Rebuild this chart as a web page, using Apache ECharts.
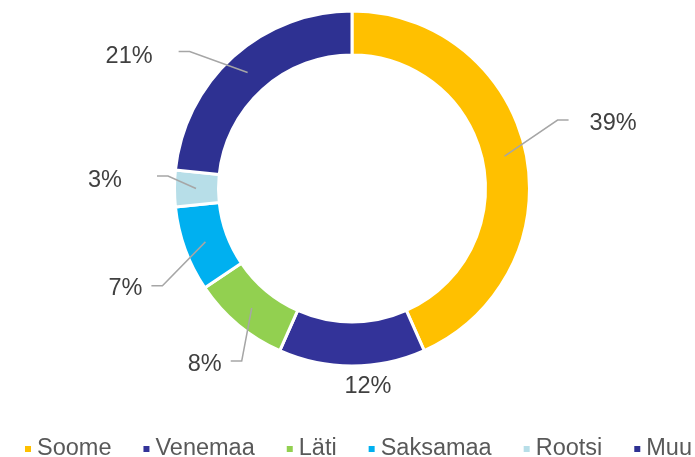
<!DOCTYPE html>
<html>
<head>
<meta charset="utf-8">
<title>Eksport riikide kaupa</title>
<script src="https://cdn.jsdelivr.net/npm/echarts@6/dist/echarts.min.js"></script>
<style>
  html, body { margin: 0; padding: 0; background: #ffffff; }
  #chart { width: 695px; height: 457px; }
</style>
</head>
<body>
<div id="chart"></div>
<script>
// data
const countries = ['Soome', 'Venemaa', 'Läti', 'Saksamaa', 'Rootsi', 'Muu'];
const shares = [39, 12, 8, 7, 3, 21];
const colors = ['#FFC000', '#333399', '#92D050', '#00B0F0', '#B7DEE8', '#2E3192'];

// leader lines like the office chart: elbow offset from the line start,
// gap between the line end and the text, small vertical shift of the text
const leaders = [
  { elbow: [53, -36], gap: 21, lift: 1 },
  { text: [16, 40] },
  { elbow: [-10, 53], gap: 9, lift: 1 },
  { elbow: [-43, 44], gap: 9, lift: 0 },
  { elbow: [-28, -12.5], gap: 35, lift: 2 },
  { elbow: [-58, -21], gap: 26, lift: 2 }
];
const center = [352, 188.5];
const ringRadius = [133.5, 177.5];
const lineStartR = 156;
const textDrop = 2.5; // canvas 'middle' sits a bit high compared with the office render
const fontFamily = '"Liberation Sans", Arial, sans-serif';

const chart = echarts.init(document.getElementById('chart'));

function placeLabel(p) {
  const l = leaders[p.dataIndex];
  const a = p.labelLinePoints[0];
  const dx = a[0] - center[0];
  const dy = a[1] - center[1];
  const k = lineStartR / Math.hypot(dx, dy);
  const s = [center[0] + dx * k, center[1] + dy * k];
  if (!l.elbow) {
    return {
      x: s[0] + l.text[0], y: s[1] + l.text[1] + textDrop,
      align: 'center', verticalAlign: 'middle',
      labelLinePoints: [s, s, s]
    };
  }
  const right = l.elbow[0] > 0;
  const e = [s[0] + l.elbow[0], s[1] + l.elbow[1]];
  const end = [e[0] + (right ? 11 : -11), e[1]];
  return {
    x: end[0] + (right ? l.gap : -l.gap),
    y: e[1] + l.lift + textDrop,
    align: right ? 'left' : 'right',
    verticalAlign: 'middle',
    labelLinePoints: [s, e, end]
  };
}

const option = {
  animation: false,
  color: colors,
  legend: {
    data: countries,
    left: 23,
    top: 437,
    width: 690,
    padding: 0,
    icon: 'rect',
    itemWidth: 8,
    itemHeight: 8,
    itemGap: 30,
    selectedMode: false,
    textStyle: { fontSize: 23.5, color: '#595959', fontFamily: fontFamily }
  },
  series: [
    {
      // the ring
      type: 'pie',
      z: 2,
      center: center,
      radius: ringRadius,
      startAngle: 90,
      clockwise: true,
      silent: true,
      itemStyle: { borderColor: '#ffffff', borderWidth: 3 },
      label: { show: false },
      labelLine: { show: false },
      emphasis: { disabled: true },
      data: countries.map((name, i) => ({ name: name, value: shares[i] }))
    },
    {
      // same slices, invisible, only for the percentage labels drawn on top
      type: 'pie',
      z: 5,
      center: center,
      radius: ringRadius,
      startAngle: 90,
      clockwise: true,
      silent: true,
      avoidLabelOverlap: false,
      legendHoverLink: false,
      itemStyle: { color: 'rgba(0,0,0,0)', borderWidth: 0 },
      label: {
        show: true,
        position: 'outside',
        formatter: p => p.value + '%',
        fontSize: 23.5,
        color: '#404040',
        fontFamily: fontFamily
      },
      labelLine: {
        show: true,
        length: 20,
        length2: 11,
        lineStyle: { color: '#A6A6A6', width: 1.5 }
      },
      labelLayout: placeLabel,
      emphasis: { disabled: true },
      data: countries.map((name, i) => ({
        name: name,
        value: shares[i],
        labelLine: leaders[i].elbow ? undefined : { lineStyle: { opacity: 0 } }
      }))
    }
  ]
};

chart.setOption(option);
</script>
</body>
</html>
